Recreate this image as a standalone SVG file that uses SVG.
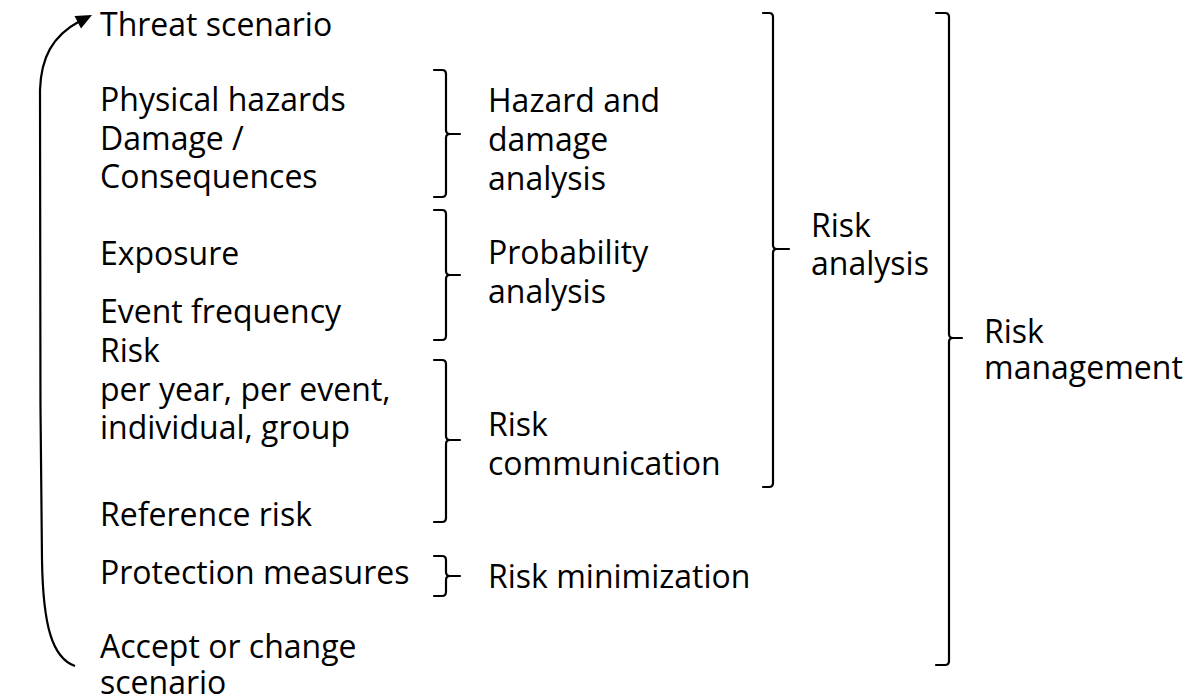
<svg xmlns="http://www.w3.org/2000/svg" width="1200" height="700" viewBox="0 0 1200 700">
<defs>
<style>
text{font-family:"Open Sans","Noto Sans","DejaVu Sans",sans-serif;font-size:32px;fill:#000}
.br{fill:none;stroke:#000;stroke-width:2.2;stroke-linecap:round;stroke-linejoin:round}
.arc{fill:none;stroke:#000;stroke-width:2.2}
</style>
</defs>
<rect width="1200" height="700" fill="#fff"/>
<g id="connectors">
<path class="arc" d="M75,666 C52,658 43,625 42,560 C40,400 39,200 40,90 C41,58 52,36 80,21"/>
<path d="M92,15 L81,28.5 L74.5,16 z" fill="#000"/>
</g>
<g id="items">
<text x="100" y="36">Threat scenario</text>
<text x="100" y="111">Physical hazards</text>
<text x="100" y="150">Damage /</text>
<text x="100" y="188">Consequences</text>
<text x="100" y="265">Exposure</text>
<text x="100" y="323">Event frequency</text>
<text x="100" y="362">Risk</text>
<text x="100" y="401">per year, per event,</text>
<text x="100" y="439">individual, group</text>
<text x="100" y="526">Reference risk</text>
<text x="100" y="584">Protection measures</text>
<text x="100" y="658">Accept or change</text>
<text x="100" y="694">scenario</text>
</g>
<g id="hazard-bracket">
<path class="br" d="M434,70 L442,70 Q446,70 446,74 L446,130 Q446,134 450,134 L460,134 M450,134 Q446,134 446,138 L446,193 Q446,197 442,197 L434,197"/>
<text x="488" y="112">Hazard and</text>
<text x="488" y="151">damage</text>
<text x="488" y="190">analysis</text>
</g>
<g id="probability-bracket">
<path class="br" d="M434,210 L442,210 Q446,210 446,214 L446,271 Q446,275 450,275 L460,275 M450,275 Q446,275 446,279 L446,336 Q446,340 442,340 L434,340"/>
<text x="488" y="264">Probability</text>
<text x="488" y="303">analysis</text>
</g>
<g id="communication-bracket">
<path class="br" d="M434,360 L442,360 Q446,360 446,364 L446,436 Q446,440 450,440 L460,440 M450,440 Q446,440 446,444 L446,518 Q446,522 442,522 L434,522"/>
<text x="488" y="436">Risk</text>
<text x="488" y="475">communication</text>
</g>
<g id="minimization-bracket">
<path class="br" d="M434,556 L442,556 Q446,556 446,560 L446,572 Q446,576 450,576 L460,576 M450,576 Q446,576 446,580 L446,592 Q446,596 442,596 L434,596"/>
<text x="488" y="588">Risk minimization</text>
</g>
<g id="risk-analysis-bracket">
<path class="br" d="M763,13 L769,13 Q773,13 773,17 L773,245 Q773,249 777,249 L789,249 M777,249 Q773,249 773,253 L773,483 Q773,487 769,487 L763,487"/>
<text x="811" y="237">Risk</text>
<text x="811" y="275">analysis</text>
</g>
<g id="risk-management-bracket">
<path class="br" d="M936,13 L945,13 Q949,13 949,17 L949,334 Q949,338 953,338 L962,338 M953,338 Q949,338 949,342 L949,661 Q949,665 945,665 L936,665"/>
<text x="984" y="343">Risk</text>
<text x="984" y="379">management</text>
</g>
</svg>
